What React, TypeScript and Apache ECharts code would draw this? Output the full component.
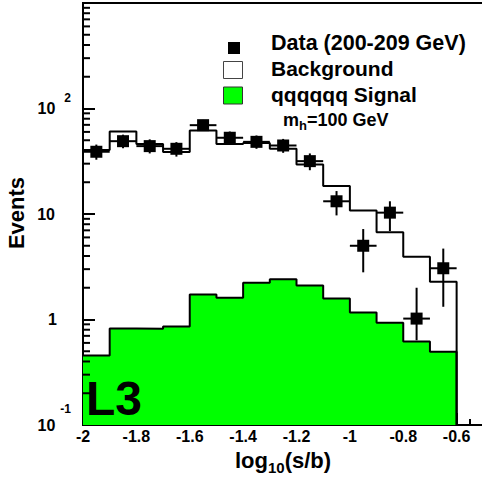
import React, { useEffect, useRef } from 'react';
import * as echarts from 'echarts';

// Histogram bin edges (log10(s/b))
const binEdges = [-2, -1.9, -1.8, -1.7, -1.6, -1.5, -1.4, -1.3, -1.2, -1.1, -1.0, -0.9, -0.8, -0.7, -0.6];
// Background expectation per bin (events)
const background = [40.5, 60.5, 46, 38.8, 62, 46, 47, 41.5, 29.5, 18.4, 10.8, 6.7, 3.93, 2.28];
// qqqqqq signal, m_h = 100 GeV (events)
const signal = [0.455, 0.82, 0.815, 0.86, 1.73, 1.61, 2.23, 2.41, 2.1, 1.58, 1.165, 0.93, 0.62, 0.494];
// Data points (200-209 GeV)
const dataX = [-1.95, -1.85, -1.75, -1.65, -1.55, -1.45, -1.35, -1.25, -1.15, -1.05, -0.95, -0.85, -0.75, -0.65];
const dataY = [38.9, 49, 44, 41.5, 69.5, 52.8, 48.3, 44.6, 31.7, 13.2, 5.0, 10.3, 1.02, 3.06];
const dataLow = [32.7, 42, 37.5, 35, 61.5, 45.5, 41.5, 38, 26, 9.7, 2.8, 6.9, 0.636, 1.32];
const dataHigh = [45.5, 56.5, 51, 48, 78, 60.5, 55.5, 51.5, 37.5, 16.5, 7.2, 13.2, 2.0, 4.7];
// Axis settings
const yMin = 0.1;
const yMax = 1000;
const xMin = -2;
const xMax = -0.4;
const decades = [0.1, 1, 10, 100];
const minorMultipliers = [2, 3, 4, 5, 6, 7, 8, 9];

const FONT = '"Liberation Sans", Arial, Helvetica, sans-serif';

function stepPoints(vals: number[]) {
  const pts: number[][] = [];
  for (let i = 0; i < vals.length; i++) {
    pts.push([binEdges[i], vals[i]]);
    pts.push([binEdges[i + 1], vals[i]]);
  }
  pts.push([binEdges[binEdges.length - 1], yMin]);
  return pts;
}

export default function App() {
  const ref = useRef<HTMLDivElement>(null);
  useEffect(() => {
    if (!ref.current) return;
    const chart = echarts.init(ref.current, undefined, { renderer: 'svg' });

    const minorTicks: number[][] = [];
    decades.forEach((d) => minorMultipliers.forEach((m) => minorTicks.push([xMin, d * m])));

    const errData = dataX.map((x, i) => [x, dataY[i], dataLow[i], dataHigh[i], binEdges[i], binEdges[i + 1]]);

    const base = { fontSize: 16, fontWeight: 'bold', fontFamily: FONT, color: '#000', align: 'right' };
    const sup = { fontSize: 12, lineHeight: 12, fontWeight: 'bold', fontFamily: FONT, color: '#000', verticalAlign: 'top', align: 'right' };

    const option: any = {
      animation: false,
      backgroundColor: '#fff',
      textStyle: { fontFamily: FONT },
      grid: {
        left: 83,
        top: 3,
        width: 427,
        height: 422,
        show: true,
        borderColor: '#000',
        borderWidth: 2,
        backgroundColor: 'transparent',
        containLabel: false,
        outerBoundsMode: 'none',
      },
      xAxis: {
        type: 'value',
        min: xMin,
        max: xMax,
        interval: 0.2,
        axisLine: { show: true, onZero: false, lineStyle: { color: '#000', width: 2 } },
        axisTick: { show: true, inside: true, length: 12, lineStyle: { color: '#000', width: 2 } },
        minorTick: { show: true, splitNumber: 4, length: 6, lineStyle: { color: '#000', width: 2 } },
        splitLine: { show: false },
        axisLabel: {
          color: '#000',
          fontSize: 16,
          fontWeight: 'bold',
          fontFamily: FONT,
          margin: 3,
          showMaxLabel: false,
        },
      },
      yAxis: {
        type: 'log',
        logBase: 10,
        min: yMin,
        max: yMax,
        axisLine: { show: true, lineStyle: { color: '#000', width: 2 } },
        axisTick: { show: true, inside: true, length: 12, lineStyle: { color: '#000', width: 2 } },
        splitLine: { show: false },
        axisLabel: {
          color: '#000',
          fontSize: 16,
          fontWeight: 'bold',
          fontFamily: FONT,
          margin: 12,
          align: 'right',
          formatter: (v: number) => {
            const e = Math.round(Math.log10(v));
            if (e === -1) return '{bm|10}{g5| }{sm|-1}';
            if (e === 0) return '{b|1}{p1| }';
            if (e === 1) return '{b|10}{p2| }';
            if (e === 2) return '{b2|10}{g9| }{s2|2}';
            return '';
          },
          rich: {
            b: { ...base, lineHeight: 18 },
            bm: { ...base, lineHeight: 44 },
            b2: { ...base, lineHeight: 34 },
            sm: sup,
            s2: sup,
            g5: { fontSize: 12, width: 5, align: 'right' },
            g9: { fontSize: 12, width: 9, align: 'right' },
            p1: { fontSize: 12, width: 14, align: 'right' },
            p2: { fontSize: 12, width: 16, align: 'right' },
          },
        },
      },
      series: [
        {
          type: 'line',
          name: 'signal',
          data: stepPoints(signal),
          showSymbol: false,
          symbol: 'none',
          lineStyle: { color: '#000', width: 2 },
          areaStyle: { color: '#00ff00', opacity: 1, origin: 'start' },
          z: 2,
          silent: true,
        },
        {
          type: 'line',
          name: 'background',
          data: stepPoints(background),
          showSymbol: false,
          symbol: 'none',
          lineStyle: { color: '#000', width: 2 },
          z: 3,
          silent: true,
        },
        {
          type: 'custom',
          name: 'minorY',
          data: minorTicks,
          silent: true,
          z: 4,
          renderItem: (params: any, api: any) => {
            const p = api.coord([api.value(0), api.value(1)]);
            return {
              type: 'line',
              shape: { x1: p[0], y1: p[1], x2: p[0] + 7, y2: p[1] },
              style: { stroke: '#000', lineWidth: 2 },
            };
          },
        },
        {
          type: 'custom',
          name: 'errors',
          data: errData,
          silent: true,
          z: 5,
          renderItem: (params: any, api: any) => {
            const x = api.value(0);
            const y = api.value(1);
            const lo = api.coord([x, api.value(2)]);
            const hi = api.coord([x, api.value(3)]);
            const l = api.coord([api.value(4), y]);
            const r = api.coord([api.value(5), y]);
            return {
              type: 'group',
              children: [
                { type: 'line', shape: { x1: lo[0], y1: lo[1], x2: hi[0], y2: hi[1] }, style: { stroke: '#000', lineWidth: 2 } },
                { type: 'line', shape: { x1: l[0], y1: l[1], x2: r[0], y2: r[1] }, style: { stroke: '#000', lineWidth: 2 } },
              ],
            };
          },
        },
        {
          type: 'scatter',
          name: 'data',
          data: dataX.map((x, i) => [x, dataY[i]]),
          symbol: 'rect',
          symbolSize: 12,
          itemStyle: { color: '#000', opacity: 1 },
          z: 6,
          silent: true,
        },
      ],
      graphic: [
        // legend
        { type: 'rect', shape: { x: 228, y: 42, width: 12, height: 12 }, style: { fill: '#000' }, z: 10 },
        { type: 'rect', shape: { x: 223.5, y: 61.5, width: 19, height: 17 }, style: { fill: '#fff', stroke: '#444', lineWidth: 1 }, z: 10 },
        { type: 'rect', shape: { x: 223.5, y: 87, width: 19, height: 17 }, style: { fill: '#00ff00', stroke: '#333', lineWidth: 1 }, z: 10 },
        { type: 'text', x: 271, y: 54, style: { text: 'Data (200-209 GeV)', fill: '#000', font: `bold 21.5px ${FONT}`, textAlign: 'left', textVerticalAlign: 'bottom' }, z: 10 },
        { type: 'text', x: 271, y: 79, style: { text: 'Background', fill: '#000', font: `bold 21px ${FONT}`, textAlign: 'left', textVerticalAlign: 'bottom' }, z: 10 },
        { type: 'text', x: 271, y: 105, style: { text: 'qqqqqq Signal', fill: '#000', font: `bold 21px ${FONT}`, textAlign: 'left', textVerticalAlign: 'bottom' }, z: 10 },
        {
          type: 'text', x: 283, y: 120, z: 10,
          style: {
            text: 'm{sub|h}=100 GeV',
            fill: '#000',
            font: `bold 18px ${FONT}`,
            textAlign: 'left',
            textVerticalAlign: 'middle',
            rich: { sub: { fontSize: 13, fontWeight: 'bold', fontFamily: FONT, padding: [10, 0, 0, 0] } },
          },
        },
        // L3 logo
        { type: 'text', x: 86, y: 422, style: { text: 'L3', fill: '#000', font: `bold 48px ${FONT}`, textAlign: 'left', textVerticalAlign: 'bottom' }, z: 10 },
        // axis titles
        {
          type: 'text', x: 16, y: 213, rotation: Math.PI / 2, z: 10,
          style: { text: 'Events', fill: '#000', font: `bold 22px ${FONT}`, textAlign: 'center', textVerticalAlign: 'middle' },
        },
        {
          type: 'text', x: 235, y: 460, z: 10,
          style: {
            text: 'log{sub|10}(s/b)',
            fill: '#000',
            font: `bold 22px ${FONT}`,
            textAlign: 'left',
            textVerticalAlign: 'middle',
            rich: { sub: { fontSize: 15, fontWeight: 'bold', fontFamily: FONT, padding: [14, 0, 0, 0] } },
          },
        },
      ],
    };
    chart.setOption(option);
    return () => chart.dispose();
  }, []);
  return <div ref={ref} style={{ width: 482, height: 488, position: 'absolute', left: 0, top: 0 }} />;
}
